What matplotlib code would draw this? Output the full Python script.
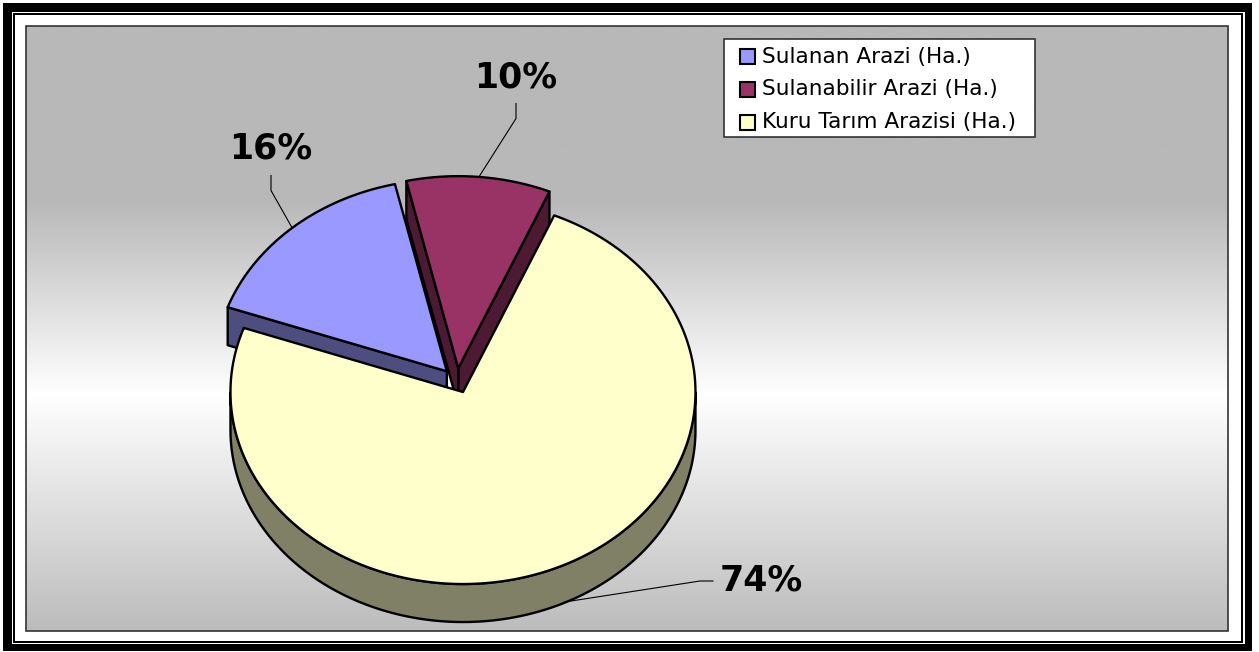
import numpy as np
import matplotlib
matplotlib.use("Agg")
import matplotlib.pyplot as plt
from matplotlib.patches import Polygon, Rectangle

# ---------------- data ----------------
categories = ["Sulanan Arazi (Ha.)", "Sulanabilir Arazi (Ha.)", "Kuru Tarım Arazisi (Ha.)"]
values = [16, 10, 74]
top_colors = ["#9999FF", "#993366", "#FFFFCC"]
side_colors = ["#4D4D80", "#4D1A33", "#808066"]

W, H = 1259, 652
fig = plt.figure(figsize=(W / 100, H / 100), dpi=100)
ax = fig.add_axes([0, 0, 1, 1])
ax.axis("off")

# ---------------- frames ----------------
ax.add_patch(Rectangle((3.3, 3.3), 1252 - 3.3, 651 - 3.3, fc="black", ec="none", zorder=0))
ax.add_patch(Rectangle((11.7, 11.7), 1245 - 11.7, 644.3 - 11.7, fc="white", ec="none", zorder=0))
ax.add_patch(Rectangle((13.3, 13.3), 1243 - 13.3, 643.3 - 13.3, fc="black", ec="none", zorder=0))
ax.add_patch(Rectangle((15.3, 15.3), 1241 - 15.3, 641.3 - 15.3, fc="white", ec="none", zorder=0))

# ---------------- gradient plot area ----------------
x0, y0, x1, y1 = 26, 26, 1228, 631
ys = np.linspace(y0, y1, 600)
v = np.interp(ys, [26, 200, 395, 631], [184, 184, 255, 188]) / 255.0
img = np.repeat(v[:, None], 2, axis=1)
ax.imshow(np.dstack([img] * 3), extent=(x0, x1, y1, y0), aspect="auto",
          interpolation="bilinear", zorder=1)
ax.add_patch(Rectangle((x0, y0), x1 - x0, y1 - y0, fc="none", ec="#333333", lw=1.2, zorder=2))

# ---------------- 3D pie ----------------
cx, cy = 456.9, 380.6
rx, ry, depth = 232.5, 192.0, 38.0
explode = 0.065
start = 160.5
lw = 1.7

fr = np.array(values, dtype=float) / sum(values)
ang = 360.0 * fr
bounds = start - np.concatenate([[0.0], np.cumsum(ang)])

slices = []
for i in range(len(values)):
    a2 = bounds[i]
    a1 = bounds[i + 1]
    b = 0.5 * (a1 + a2)
    slices.append((i, a1, a2, b))

order = sorted(slices, key=lambda s: -np.sin(np.radians(s[3])))

anchors = {}
z = 3
for (i, a1, a2, b) in order:
    br = np.radians(b)
    ox = cx + explode * rx * np.cos(br)
    oy = cy - explode * ry * np.sin(br)

    def P(t, dz=0.0):
        tr = np.radians(t)
        return (ox + rx * np.cos(tr), oy - ry * np.sin(tr) + dz)

    # radial faces
    if np.cos(np.radians(a1)) > 0:
        poly = [(ox, oy), P(a1), P(a1, depth), (ox, oy + depth)]
        ax.add_patch(Polygon(poly, closed=True, fc=side_colors[i], ec="black", lw=lw,
                             joinstyle="round", zorder=z))
    if np.cos(np.radians(a2)) < 0:
        poly = [(ox, oy), P(a2), P(a2, depth), (ox, oy + depth)]
        ax.add_patch(Polygon(poly, closed=True, fc=side_colors[i], ec="black", lw=lw,
                             joinstyle="round", zorder=z))
    # curved outer side
    ts = np.linspace(a1, a2, 800)
    mask = np.sin(np.radians(ts)) < 0
    idx = np.where(mask)[0]
    if len(idx):
        runs = np.split(idx, np.where(np.diff(idx) > 1)[0] + 1)
        for r in runs:
            tt = ts[r]
            top = [P(t) for t in tt]
            bot = [P(t, depth) for t in tt[::-1]]
            ax.add_patch(Polygon(top + bot, closed=True, fc=side_colors[i], ec="black",
                                 lw=lw, joinstyle="round", zorder=z))
    # top face
    tt = np.linspace(a1, a2, 800)
    poly = [(ox, oy)] + [P(t) for t in tt]
    ax.add_patch(Polygon(poly, closed=True, fc=top_colors[i], ec="black", lw=lw,
                         joinstyle="round", zorder=z + 0.5))
    z += 1
    ax_, ay_ = P(b)
    if np.sin(br) < 0:
        ax_ += 8
        ay_ += depth * 0.9
    anchors[i] = (ax_, ay_)

# ---------------- labels ----------------
label_text_pos = [(270.5, 148.5), (516.0, 78.0), (761.0, 580.5)]
label_leader = [[(0.5, 27), (0.5, 42)], [(0.0, 25.5), (0.0, 40.5)], [(-48, 0.5), (-61, 0.5)]]
for i in range(len(values)):
    tx, ty = label_text_pos[i]
    ax.text(tx, ty, f"{round(fr[i] * 100)}%", ha="center", va="center",
            fontsize=25, fontweight="bold", family="DejaVu Sans", color="black", zorder=20)
    pts = [(tx + dx, ty + dy) for dx, dy in label_leader[i]] + [anchors[i]]
    xs, ysl = zip(*pts)
    ax.plot(xs, ysl, color="black", lw=0.8, zorder=19)

# ---------------- legend ----------------
lx0, ly0, lx1, ly1 = 724, 39, 1035, 137
ax.add_patch(Rectangle((lx0, ly0), lx1 - lx0, ly1 - ly0, fc="white", ec="#333333",
                       lw=1.2, zorder=20))
rows = [56.5, 89.5, 122.0]
for i, name in enumerate(categories):
    ax.add_patch(Rectangle((740, rows[i] - 7.5), 15, 15, fc=top_colors[i], ec="black",
                           lw=1.5, zorder=21))
    ax.text(762, rows[i], name, ha="left", va="center", fontsize=15.6,
            family="DejaVu Sans", color="black", zorder=21)

ax.set_xlim(0, W)
ax.set_ylim(H, 0)
fig.savefig("out.png", dpi=100, facecolor="white")
